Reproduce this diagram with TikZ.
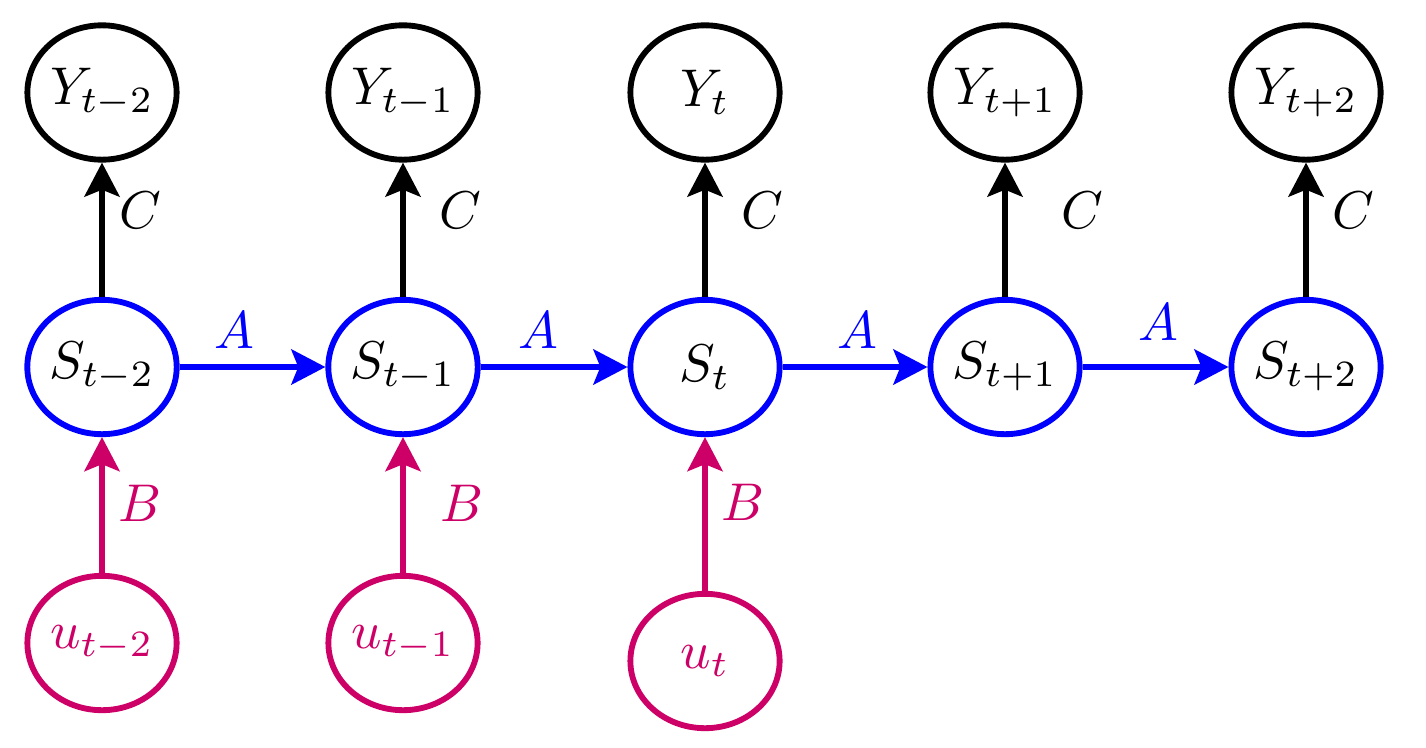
\documentclass[tikz,border=0pt]{standalone}
\usetikzlibrary{shapes.geometric,arrows.meta}
\definecolor{inmag}{RGB}{204,0,102}
\begin{document}
\begin{tikzpicture}[x=0.1883pt,y=-0.1883pt,
  nd/.style={ellipse, draw, line width=1.1pt, minimum width=28.1pt, minimum height=25.3pt, inner sep=0pt},
  ynode/.style={nd, draw=black},
  snode/.style={nd, draw=blue},
  unode/.style={nd, draw=inmag, text=inmag},
  conn/.style={line width=1.1pt, -{Stealth[length=6.4pt,width=6.6pt,inset=1.3pt]}},
  carrow/.style={conn, draw=black},
  aarrow/.style={conn, draw=blue},
  barrow/.style={conn, draw=inmag},
  lab/.style={inner sep=0pt},
  clab/.style={lab, text=black},
  alab/.style={lab, text=blue},
  blab/.style={lab, text=inmag}]
\useasboundingbox (0,0) rectangle (1426,747);
% output nodes
\node[ynode] (y1) at (102,92.5) {$Y_{t-2}$};
\node[ynode] (y2) at (403,92.5) {$Y_{t-1}$};
\node[ynode] (y3) at (705,92.5) {$Y_{t}$};
\node[ynode] (y4) at (1005,92.5) {$Y_{t+1}$};
\node[ynode] (y5) at (1306,92.5) {$Y_{t+2}$};
% state nodes
\node[snode] (s1) at (102,367) {$S_{t-2}$};
\node[snode] (s2) at (403,367) {$S_{t-1}$};
\node[snode] (s3) at (705,367) {$S_{t}$};
\node[snode] (s4) at (1005,367) {$S_{t+1}$};
\node[snode] (s5) at (1306,367) {$S_{t+2}$};
% input nodes
\node[unode] (u1) at (102,643) {$u_{t-2}$};
\node[unode] (u2) at (403,643) {$u_{t-1}$};
\node[unode] (u3) at (705,661) {$u_{t}$};
% C arrows
\draw[carrow] (s1) -- (y1);
\draw[carrow] (s2) -- (y2);
\draw[carrow] (s3) -- (y3);
\draw[carrow] (s4) -- (y4);
\draw[carrow] (s5) -- (y5);
% A arrows
\draw[aarrow] (s1) -- (s2);
\draw[aarrow] (s2) -- (s3);
\draw[aarrow] (s3) -- (s4);
\draw[aarrow] (s4) -- (s5);
% B arrows
\draw[barrow] (u1) -- (s1);
\draw[barrow] (u2) -- (s2);
\draw[barrow] (u3) -- (s3);
% labels
\node[clab] (c1) at (140,210) {$C$};
\node[clab] (c2) at (460,210) {$C$};
\node[clab] (c3) at (762,210) {$C$};
\node[clab] (c4) at (1082,210) {$C$};
\node[clab] (c5) at (1353,210) {$C$};
\node[alab] (a1) at (234,330) {$A$};
\node[alab] (a2) at (538,330) {$A$};
\node[alab] (a3) at (857,330) {$A$};
\node[alab] (a4) at (1158,322) {$A$};
\node[blab] (b1) at (140,503) {$B$};
\node[blab] (b2) at (462,503) {$B$};
\node[blab] (b3) at (743,502) {$B$};
\end{tikzpicture}
\end{document}
